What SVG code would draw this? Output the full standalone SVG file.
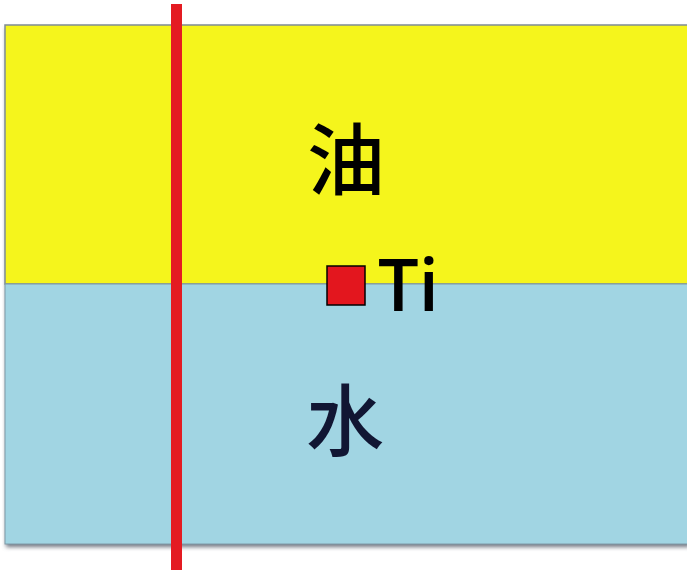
<svg xmlns="http://www.w3.org/2000/svg" width="687" height="578" viewBox="0 0 687 578">
<defs>
<style>
.cjk{font-family:"Noto Sans CJK SC","Noto Sans CJK JP",sans-serif;font-size:78px;font-weight:500}
.lat{font-family:"Open Sans","Liberation Sans",sans-serif;font-size:72px;font-weight:600;fill:#000}
</style>
<filter id="sh" x="-5%" y="-5%" width="110%" height="115%">
<feGaussianBlur stdDeviation="2"/>
</filter>
</defs>
<rect width="687" height="578" fill="#ffffff"/>
<g id="layers">
<rect x="6" y="28" width="684" height="519" fill="#6f7480" filter="url(#sh)"/>
<rect id="oil" x="5" y="25" width="684" height="259" fill="#f5f51c" stroke="#7f8c95" stroke-width="1.5"/>
<rect id="water" x="5" y="284" width="684" height="260" fill="#a1d5e3" stroke="#7f9aa8" stroke-width="1"/>
</g>
<g id="rod">
<rect x="171" y="4" width="11" height="566" fill="#e41b22"/>
</g>
<g id="label-oil"><text class="cjk" x="307" y="189" fill="#000">油</text></g>
<g id="label-water"><text class="cjk" x="306" y="450" fill="#111633">水</text></g>
<g id="ti">
<rect x="327" y="266" width="38" height="39" fill="#e3161e" stroke="#000" stroke-width="1.5"/>
<text class="lat" x="378" y="311">Ti</text>
</g>
</svg>
